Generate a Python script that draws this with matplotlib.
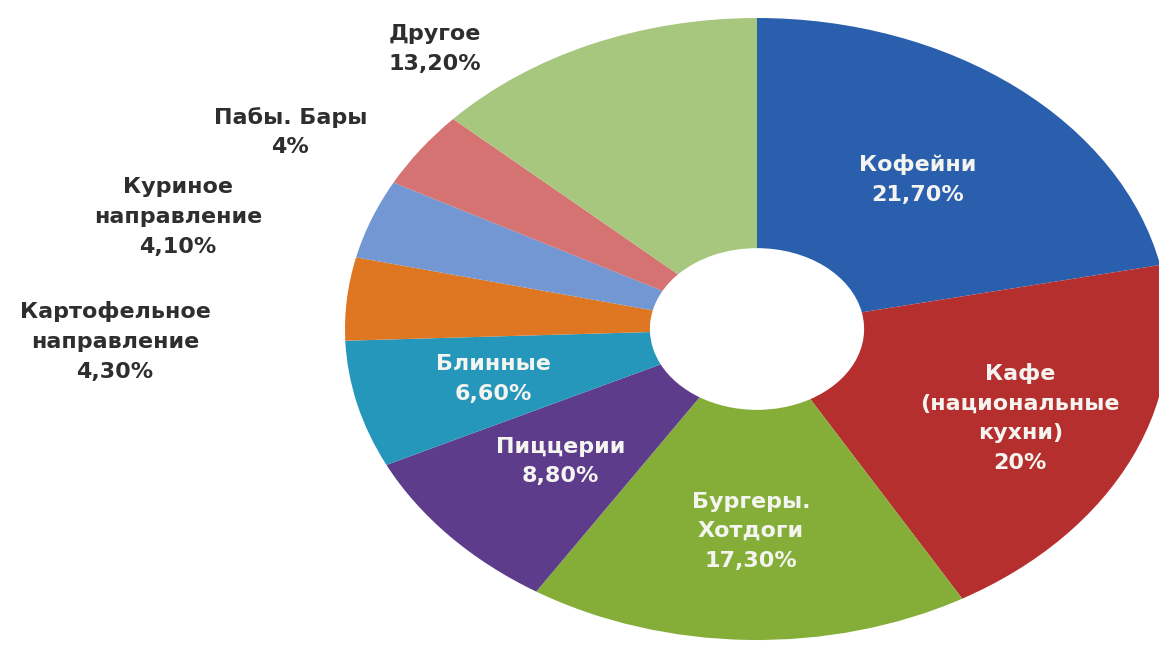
import matplotlib
matplotlib.use("Agg")
import matplotlib.pyplot as plt
import numpy as np

# Доли сегментов общественного питания, %
categories = [
    "Кофейни",
    "Кафе\n(национальные\nкухни)",
    "Бургеры.\nХотдоги",
    "Пиццерии",
    "Блинные",
    "Картофельное\nнаправление",
    "Куриное\nнаправление",
    "Пабы. Бары",
    "Другое",
]
shares = [21.7, 20.0, 17.3, 8.8, 6.6, 4.3, 4.1, 4.0, 13.2]
colors = ["#2A5FAE", "#B52F2E", "#84AE37", "#5E3C8C", "#2597BA",
          "#DE7622", "#7297D3", "#D47371", "#A7C67E"]

# подписи внутри кольца: расстояние от центра (доля радиуса)
inner_dist = {0: 0.62, 1: 0.70, 2: 0.65, 3: 0.64, 4: 0.66}
# подписи снаружи: координаты в осях
outer_pos = {5: (-1.558, -0.04), 6: (-1.405, 0.36), 7: (-1.133, 0.633), 8: (-0.782, 0.90)}


def fmt(v):
    if float(v).is_integer():
        return f"{int(v)}%"
    return f"{v:.2f}".replace(".", ",") + "%"


fig = plt.figure(figsize=(11.59, 6.46), dpi=100)
ax = fig.add_axes([0, 0, 1, 1])

wedges, _ = ax.pie(shares, colors=colors, startangle=90, counterclock=False,
                   radius=1.0, wedgeprops=dict(width=0.74, linewidth=0))

# растягиваем круг в эллипс
ax.set_aspect("auto")
cx, cy, rx, ry = 757, 329, 412, 311
ax.set_xlim(-cx / rx, (1159 - cx) / rx)
ax.set_ylim((cy - 646) / ry, cy / ry)
ax.axis("off")

for i, (w, name, v) in enumerate(zip(wedges, categories, shares)):
    txt = f"{name}\n{fmt(v)}"
    if i in inner_dist:
        ang = np.deg2rad((w.theta1 + w.theta2) / 2)
        d = inner_dist[i]
        ax.text(d * np.cos(ang), d * np.sin(ang), txt, ha="center", va="center",
                color="#F4F4F0", fontsize=16, fontweight="bold", linespacing=1.6)
    else:
        x, y = outer_pos[i]
        ax.text(x, y, txt, ha="center", va="center", color="#2E2E2E",
                fontsize=16, fontweight="bold", linespacing=1.6)

fig.savefig("out.png", dpi=100, facecolor="white")
